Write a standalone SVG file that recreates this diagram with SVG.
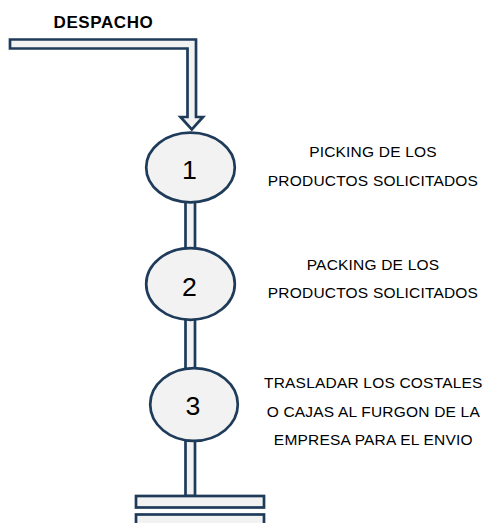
<svg xmlns="http://www.w3.org/2000/svg" width="487" height="523" viewBox="0 0 487 523">
<style>
.shape{fill:#F2F2F2;stroke:#1F3B5A;stroke-width:2.7;}
.num{font-family:"Liberation Sans",Arial,sans-serif;font-size:26.7px;fill:#000;text-anchor:middle;}
.lbl{font-family:"Liberation Sans",Arial,sans-serif;font-size:15.5px;fill:#000;text-anchor:middle;letter-spacing:0.2px;}
.title{font-family:"Liberation Sans",Arial,sans-serif;font-size:17px;font-weight:bold;fill:#000;text-anchor:middle;letter-spacing:0.6px;}
</style>
<rect width="487" height="523" fill="#fff"/>
<g id="connectors">
<polygon class="shape" points="10,39.5 196,39.5 196,117 203,117 191.8,129.5 180.5,117 187.5,117 187.5,48.5 10,48.5"/>
<rect class="shape" x="185.5" y="195" width="9.5" height="60"/>
<rect class="shape" x="185.5" y="312" width="9.5" height="62"/>
<rect class="shape" x="185.5" y="432" width="9.5" height="64"/>
</g>
<g id="title"><text class="title" x="103.5" y="27.5">DESPACHO</text></g>
<g id="node1">
<ellipse class="shape" cx="190.5" cy="167.5" rx="44.3" ry="34.9"/>
<text class="num" x="189.5" y="179.3">1</text>
</g>
<g id="label1">
<text class="lbl" x="373" y="157.3">PICKING DE LOS</text>
<text class="lbl" x="373" y="185.5">PRODUCTOS SOLICITADOS</text>
</g>
<g id="node2">
<ellipse class="shape" cx="190.5" cy="284" rx="44.3" ry="35.8"/>
<text class="num" x="189.5" y="295.5">2</text>
</g>
<g id="label2">
<text class="lbl" x="373" y="270">PACKING DE LOS</text>
<text class="lbl" x="373" y="298">PRODUCTOS SOLICITADOS</text>
</g>
<g id="node3">
<ellipse class="shape" cx="194" cy="404.5" rx="43.8" ry="36.3"/>
<text class="num" x="193" y="415">3</text>
</g>
<g id="label3">
<text class="lbl" x="373.3" y="388.3">TRASLADAR LOS COSTALES</text>
<text class="lbl" x="373.3" y="416.7">O CAJAS AL FURGON DE LA</text>
<text class="lbl" x="373.3" y="445">EMPRESA PARA EL ENVIO</text>
</g>
<g id="base">
<rect class="shape" x="136" y="496" width="128" height="11.5"/>
<rect class="shape" x="136" y="514.5" width="128" height="20"/>
</g>
</svg>
